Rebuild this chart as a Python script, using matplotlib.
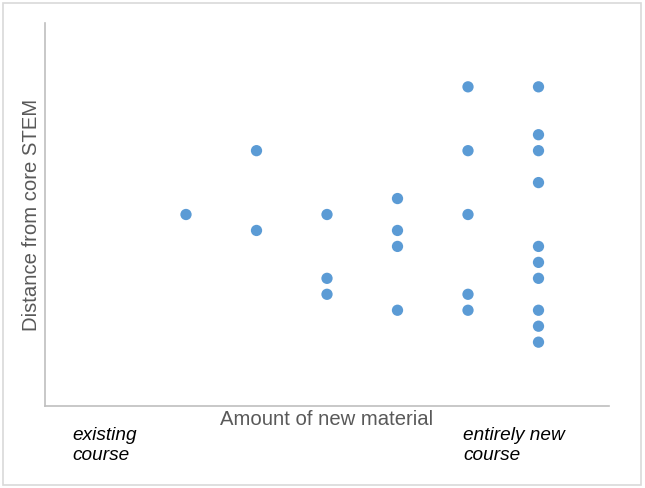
import matplotlib
matplotlib.use("Agg")
import matplotlib.pyplot as plt
from matplotlib.patches import Rectangle

# amount of new material (1 = existing course ... 6 = entirely new course)
new_material = [1,
                2, 2,
                3, 3, 3,
                4, 4, 4, 4,
                5, 5, 5, 5, 5,
                6, 6, 6, 6, 6, 6, 6, 6, 6, 6]
# distance from core STEM
distance = [12,
            16, 11,
            12, 8, 7,
            13, 11, 10, 6,
            20, 16, 12, 7, 6,
            20, 17, 16, 14, 10, 9, 8, 6, 5, 4]

plt.rcParams['font.family'] = ['Liberation Sans', 'DejaVu Sans']

fig = plt.figure(figsize=(6.45, 4.88), dpi=100)
ax = fig.add_axes([45 / 645, 1 - 406 / 488, 564 / 645, 383 / 488])

ax.scatter(new_material, distance, s=66, color='#5B9BD5', edgecolors='none', zorder=3)

ax.set_xlim(-1, 7)
ax.set_ylim(0, 24)
ax.set_xticks([])
ax.set_yticks([])
for side in ['top', 'right']:
    ax.spines[side].set_visible(False)
for side in ['left', 'bottom']:
    ax.spines[side].set_color('#BFBFBF')
    ax.spines[side].set_linewidth(1.2)

ax.set_ylabel('Distance from core STEM', fontsize=14.6, color='#595959', labelpad=3)
ax.set_xlabel('Amount of new material', fontsize=14.6, color='#595959', labelpad=3)

# notes under the axis
fig.text(72 / 645, 1 - 427 / 488, 'existing\ncourse', fontsize=13.7, style='italic',
         va='top', ha='left', linespacing=1.22)
fig.text(463 / 645, 1 - 427 / 488, 'entirely new\ncourse', fontsize=13.7, style='italic',
         va='top', ha='left', linespacing=1.22)

# light frame round the whole picture
fig.patches.append(Rectangle((3 / 645, 3 / 488), 638 / 645, 482 / 488, transform=fig.transFigure,
                             fill=False, edgecolor='#D9D9D9', linewidth=1.2))

fig.savefig('out.png', dpi=100)
